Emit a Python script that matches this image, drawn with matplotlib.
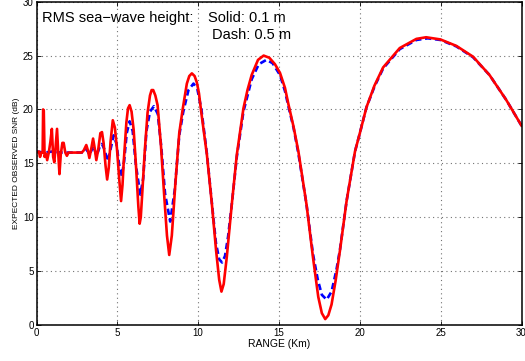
import matplotlib
matplotlib.use("Agg")
import matplotlib.pyplot as plt

# <----------------[DATA]----------------> #

# solid red: RMS sea-wave height 0.1 m
range_solid = [0.00, 0.15, 0.22, 0.30, 0.38, 0.41, 0.45, 0.50, 0.58, 0.66,
               0.76, 0.86, 0.95, 1.03, 1.10, 1.17, 1.27, 1.35, 1.42, 1.50,
               1.60, 1.68, 1.78, 1.88, 1.98, 2.80, 2.92, 3.08, 3.18, 3.27,
               3.38, 3.50, 3.60, 3.70, 3.82, 3.95, 4.05, 4.15, 4.27, 4.37,
               4.47, 4.58, 4.72, 4.85, 4.98, 5.12, 5.23, 5.32, 5.39, 5.48,
               5.56, 5.66, 5.76, 5.88, 6.01, 6.17, 6.30, 6.38, 6.45, 6.52,
               6.69, 6.87, 7.02, 7.12, 7.22, 7.35, 7.49, 7.70, 7.90, 8.07,
               8.21, 8.37, 8.58, 8.83, 9.05, 9.30, 9.45, 9.61, 9.78, 9.92,
               10.05, 10.17, 10.54, 10.85, 11.11, 11.30, 11.44, 11.58, 11.77, 12.08,
               12.39, 12.80, 13.05, 13.31, 13.70, 14.05, 14.40, 14.75, 15.06, 15.37,
               15.58, 15.90, 16.20, 16.70, 17.10, 17.43, 17.65, 17.86, 18.05, 18.25,
               18.50, 18.77, 19.18, 19.70, 20.00, 20.41, 20.90, 21.44, 22.47, 23.50,
               24.10, 24.98, 25.97, 27.00, 28.02, 29.05, 30.00]
snr_solid = [16.0, 16.1, 15.6, 16.0, 16.0, 20.0, 19.9, 15.6, 15.9, 15.3,
             16.0, 17.0, 18.2, 15.6, 15.1, 16.3, 18.2, 15.8, 14.0, 15.8,
             16.9, 16.9, 16.0, 15.7, 16.0, 16.0, 16.2, 16.7, 16.2, 15.5,
             16.3, 17.3, 16.4, 15.3, 16.3, 17.8, 17.9, 16.9, 14.8, 13.5,
             14.6, 17.0, 19.0, 18.3, 16.3, 13.5, 11.5, 13.0, 15.0, 17.0,
             18.8, 20.1, 20.4, 19.8, 18.1, 14.4, 11.0, 9.4, 10.0, 11.7,
             16.0, 19.7, 21.3, 21.8, 21.8, 21.3, 20.4, 16.6, 12.0, 8.3,
             6.5, 8.3, 12.9, 17.8, 20.1, 22.4, 23.1, 23.35, 23.1, 22.5,
             21.5, 20.0, 15.8, 11.2, 6.9, 4.2, 3.1, 3.8, 6.3, 11.2,
             15.8, 20.1, 21.8, 23.2, 24.6, 25.0, 24.8, 24.2, 23.4, 22.0,
             20.5, 18.4, 16.1, 11.2, 6.3, 2.6, 1.1, 0.55, 0.9, 1.9,
             4.1, 6.9, 11.5, 16.1, 17.8, 20.2, 22.2, 23.9, 25.7, 26.55,
             26.7, 26.5, 25.9, 24.9, 23.2, 20.9, 18.5]

# dashed blue: RMS sea-wave height 0.5 m
range_dash = [0.00, 0.50, 1.00, 1.50, 2.00, 2.90, 3.10, 3.28, 3.52, 3.72,
              3.90, 4.05, 4.20, 4.40, 4.58, 4.77, 4.95, 5.10, 5.28, 5.42,
              5.58, 5.76, 5.95, 6.15, 6.42, 6.60, 6.80, 7.02, 7.26, 7.50,
              7.72, 7.95, 8.27, 8.55, 8.83, 9.08, 9.40, 9.71, 9.95, 10.20,
              10.54, 10.85, 11.10, 11.30, 11.48, 11.66, 11.85, 12.08, 12.39, 12.80,
              13.31, 13.75, 14.22, 14.60, 15.06, 15.37, 15.58, 15.90, 16.20, 16.70,
              17.10, 17.40, 17.65, 17.95, 18.25, 18.55, 18.77, 19.18, 19.70, 20.00,
              20.41, 20.90, 21.44, 22.47, 23.50, 24.20, 24.98, 25.97, 27.00, 28.02,
              29.05, 30.00]
snr_dash = [16.1, 16.0, 16.1, 16.0, 16.0, 16.0, 16.3, 15.8, 16.6, 15.7,
            16.5, 16.8, 16.3, 15.2, 16.3, 17.6, 16.8, 15.0, 13.8, 15.2,
            17.8, 18.9, 18.0, 14.8, 12.1, 13.6, 18.0, 19.8, 20.3, 19.6,
            16.5, 12.2, 9.6, 12.5, 17.6, 19.8, 21.8, 22.4, 21.9, 20.0,
            15.9, 11.3, 7.6, 6.1, 5.8, 6.4, 8.2, 11.2, 15.6, 19.8,
            22.8, 24.2, 24.6, 24.3, 23.2, 21.7, 20.3, 18.3, 15.9, 11.2,
            6.6, 4.2, 2.8, 2.35, 3.1, 5.1, 7.0, 11.5, 16.1, 17.8,
            20.2, 22.1, 23.8, 25.6, 26.45, 26.6, 26.45, 25.85, 24.85, 23.2,
            20.9, 18.5]

x_ticks = [0, 5, 10, 15, 20, 25, 30]
y_ticks = [0, 5, 10, 15, 20, 25, 30]

plt.rcParams['font.family'] = ['Liberation Sans', 'DejaVu Sans']

fig = plt.figure(figsize=(5.25, 3.61), dpi=100)
ax = fig.add_axes([36.5 / 525, 36 / 361, 485 / 525, 323.3 / 361])

ax.plot(range_dash, snr_dash, color='#0000ff', lw=1.9, dashes=(2.4, 1.4))
ax.plot(range_solid, snr_solid, color='#ff0000', lw=1.9)

ax.set_xlim(0, 30)
ax.set_ylim(0, 30)
ax.set_xticks(x_ticks)
ax.set_yticks(y_ticks)
ax.tick_params(direction='in', length=3, width=0.6, labelsize=7, pad=2,
               top=True, right=True)
ax.grid(True, linestyle=(0, (1, 3)), linewidth=0.8, color='0.45')
for s in ax.spines.values():
  s.set_linewidth(1.1)

ax.set_xlabel('RANGE (Km)', fontsize=7.5, labelpad=1)
ax.set_ylabel('EXPECTED OBSERVED SNR (dB)', fontsize=6, labelpad=2)

# annotation: two columns, "Solid" and "Dash" lined up
ax.text(0.37, 28.5, 'RMS sea\u2212wave height:', fontsize=10.5,
        ha='left', va='center')
ax.text(10.6, 28.5, 'Solid: 0.1 m', fontsize=10.5, ha='left', va='center')
ax.text(10.85, 26.9, 'Dash: 0.5 m', fontsize=10.5, ha='left', va='center')

fig.savefig('out.png', dpi=100)
plt.close(fig)
